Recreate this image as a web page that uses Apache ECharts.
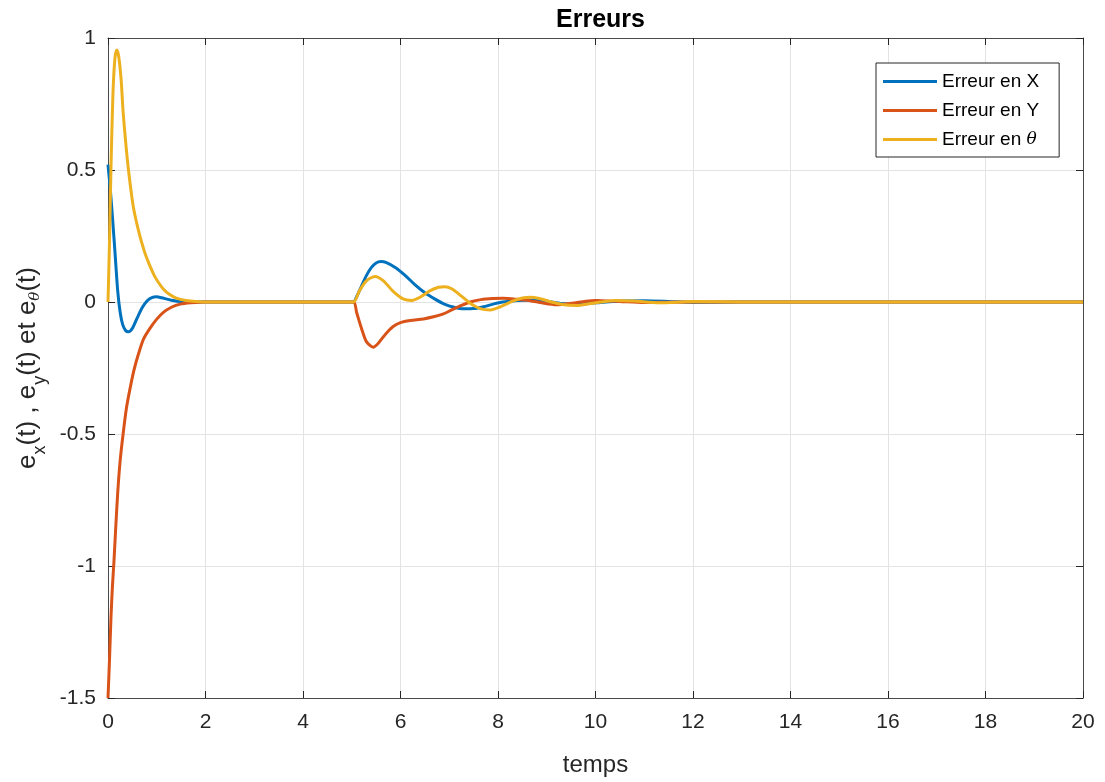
<!DOCTYPE html>
<html>
<head>
<meta charset="utf-8">
<script src="https://cdn.jsdelivr.net/npm/echarts@6/dist/echarts.min.js"></script>
<style>html,body{margin:0;padding:0;background:#fff}#c{width:1105px;height:782px}</style>
</head>
<body>
<div id="c"></div>
<script>
const titleText = 'Erreurs';
const xName = 'temps';
const seriesNames = ['Erreur en X', 'Erreur en Y', 'Erreur en θ'];
const xTicks = {min: 0, max: 20, interval: 2};
const yTicks = {min: -1.5, max: 1, interval: 0.5};

const errX = [[0,0.52],[0.05,0.42],[0.1,0.3],[0.15,0.17],[0.2,0.04],[0.25,-0.04],[0.3,-0.085],[0.36,-0.108],[0.42,-0.113],[0.5,-0.1],[0.6,-0.06],[0.7,-0.022],[0.8,0.004],[0.9,0.017],[1.0,0.02],[1.1,0.016],[1.3,0.007],[1.5,0.002],[2,0],[5.03,0],[5.1,0.02],[5.2,0.06],[5.3,0.1],[5.4,0.13],[5.5,0.148],[5.6,0.153],[5.7,0.15],[5.9,0.13],[6.1,0.1],[6.3,0.065],[6.5,0.035],[6.7,0.012],[6.9,-0.008],[7.1,-0.02],[7.3,-0.026],[7.5,-0.025],[7.7,-0.018],[7.9,-0.008],[8.1,0],[8.4,0.006],[8.7,0.008],[9.0,0.003],[9.3,-0.006],[9.6,-0.008],[10,-0.003],[10.5,0.004],[11,0.005],[11.5,0.002],[12,-0.002],[13,0],[20,0]];
const errY = [[0,-1.5],[0.03,-1.36],[0.06,-1.2],[0.09,-1.08],[0.12,-0.99],[0.16,-0.85],[0.2,-0.72],[0.25,-0.6],[0.31,-0.5],[0.38,-0.4],[0.45,-0.33],[0.53,-0.26],[0.62,-0.2],[0.73,-0.14],[0.86,-0.1],[1.0,-0.065],[1.13,-0.04],[1.3,-0.02],[1.48,-0.008],[1.7,-0.003],[2,0],[5.03,0],[5.1,-0.04],[5.2,-0.1],[5.3,-0.15],[5.44,-0.171],[5.55,-0.155],[5.7,-0.12],[5.85,-0.093],[6.0,-0.078],[6.2,-0.07],[6.47,-0.064],[6.7,-0.055],[6.88,-0.045],[7.05,-0.03],[7.25,-0.013],[7.43,0],[7.65,0.009],[7.9,0.013],[8.11,0.014],[8.4,0.01],[8.66,0.005],[8.9,-0.003],[9.2,-0.01],[9.5,-0.005],[9.8,0.003],[10.0,0.006],[10.5,0.002],[11,-0.002],[12,0],[20,0]];
const errTheta = [[0,0],[0.03,0.22],[0.06,0.5],[0.1,0.78],[0.14,0.92],[0.18,0.955],[0.22,0.93],[0.27,0.84],[0.31,0.72],[0.36,0.61],[0.42,0.5],[0.52,0.36],[0.64,0.26],[0.75,0.19],[0.83,0.15],[0.95,0.1],[1.05,0.07],[1.13,0.05],[1.25,0.03],[1.4,0.015],[1.6,0.006],[1.8,0.002],[2.1,0],[5.03,0],[5.15,0.04],[5.3,0.08],[5.48,0.097],[5.65,0.08],[5.85,0.04],[6.05,0.012],[6.23,0.006],[6.4,0.018],[6.6,0.042],[6.78,0.056],[6.91,0.058],[7.05,0.05],[7.25,0.022],[7.45,-0.008],[7.65,-0.026],[7.84,-0.03],[8.05,-0.018],[8.3,0.003],[8.5,0.015],[8.66,0.018],[8.85,0.013],[9.1,0],[9.35,-0.01],[9.61,-0.013],[9.9,-0.006],[10.4,0.006],[10.8,0.004],[11.3,-0.003],[12,0.002],[13,0],[20,0]];

const colors = ['#0072BD', '#D95319', '#EDB120'];
const FONT = '"Liberation Sans", Arial, Helvetica, sans-serif';
const AX = '#262626';
const GRID = '#e3e3e3';

const chart = echarts.init(document.getElementById('c'), null, {renderer: 'canvas'});

const baseX = {
  type: 'value', min: xTicks.min, max: xTicks.max, interval: xTicks.interval,
  axisLine: {show: true, onZero: false, lineStyle: {color: '#4a4a4a', width: 1}},
  axisTick: {show: true, inside: true, length: 7, lineStyle: {color: AX}},
  splitLine: {show: false}
};
const baseY = {
  type: 'value', min: yTicks.min, max: yTicks.max, interval: yTicks.interval,
  axisLine: {show: true, onZero: false, lineStyle: {color: '#4a4a4a', width: 1}},
  axisTick: {show: true, inside: true, length: 7, lineStyle: {color: AX}},
  splitLine: {show: false}
};

const option = {
  animation: false,
  backgroundColor: '#fff',
  color: colors,
  title: {
    text: titleText, left: 595.5, textAlign: 'center', top: 3,
    textStyle: {fontFamily: FONT, fontSize: 25, fontWeight: 'bold', color: '#000'}
  },
  grid: {left: 108, right: 22, top: 38, bottom: 82, containLabel: false},
  legend: {
    left: 876, top: 63, orient: 'vertical',
    backgroundColor: '#fff', borderColor: AX, borderWidth: 1,
    padding: [9, 20, 8, 7], itemGap: 10,
    itemWidth: 54, itemHeight: 3, icon: 'rect',
    data: seriesNames,
    formatter: function (n) {
      if (n.indexOf('θ') >= 0) return '{a|' + n.replace('θ', '') + '}{t|θ}';
      return '{a|' + n + '}';
    },
    textStyle: {
      fontFamily: FONT, fontSize: 19, color: '#000',
      rich: {
        a: {fontFamily: FONT, fontSize: 19, color: '#000'},
        t: {fontFamily: '"DejaVu Serif", serif', fontStyle: 'italic', fontSize: 17, color: '#000'}
      }
    }
  },
  xAxis: [
    Object.assign({}, baseX, {
      position: 'bottom',
      name: xName, nameLocation: 'middle', nameGap: 55,
      nameTextStyle: {fontFamily: FONT, fontSize: 24, color: AX},
      axisLabel: {show: true, margin: 14, fontFamily: FONT, fontSize: 21, color: AX},
      splitLine: {show: true, lineStyle: {color: GRID, width: 1}}
    }),
    Object.assign({}, baseX, {position: 'top', axisLabel: {show: false}})
  ],
  yAxis: [
    Object.assign({}, baseY, {
      position: 'left',
      name: '{m|e}{s|x}{m|(t) , e}{s|y}{m|(t) et e}{st|θ}{m|(t)}',
      nameLocation: 'middle', nameGap: 60, nameRotate: 90,
      nameTextStyle: {
        fontFamily: FONT, fontSize: 26, color: AX,
        rich: {
          m: {fontFamily: FONT, fontSize: 26, color: AX, lineHeight: 26, verticalAlign: 'top'},
          s: {fontFamily: FONT, fontSize: 18, color: AX, lineHeight: 12, verticalAlign: 'top', padding: [16, 0, 0, 0]},
          st: {fontFamily: '"DejaVu Serif", serif', fontStyle: 'italic', fontSize: 15, color: AX, lineHeight: 12, verticalAlign: 'top', padding: [13, 0, 0, 0]}
        }
      },
      axisLabel: {show: true, margin: 12, fontFamily: FONT, fontSize: 21, color: AX},
      splitLine: {show: true, lineStyle: {color: GRID, width: 1}}
    }),
    Object.assign({}, baseY, {position: 'right', axisLabel: {show: false}})
  ],
  series: [
    {name: seriesNames[0], type: 'line', data: errX, xAxisIndex: 0, yAxisIndex: 0, showSymbol: false, smooth: 0.25, lineStyle: {width: 3, color: colors[0]}, itemStyle: {color: colors[0]}},
    {name: seriesNames[1], type: 'line', data: errY, xAxisIndex: 0, yAxisIndex: 0, showSymbol: false, smooth: 0.25, lineStyle: {width: 3, color: colors[1]}, itemStyle: {color: colors[1]}},
    {name: seriesNames[2], type: 'line', data: errTheta, xAxisIndex: 0, yAxisIndex: 0, showSymbol: false, smooth: 0.25, lineStyle: {width: 3, color: colors[2]}, itemStyle: {color: colors[2]}}
  ]
};
chart.setOption(option);
</script>
</body>
</html>
